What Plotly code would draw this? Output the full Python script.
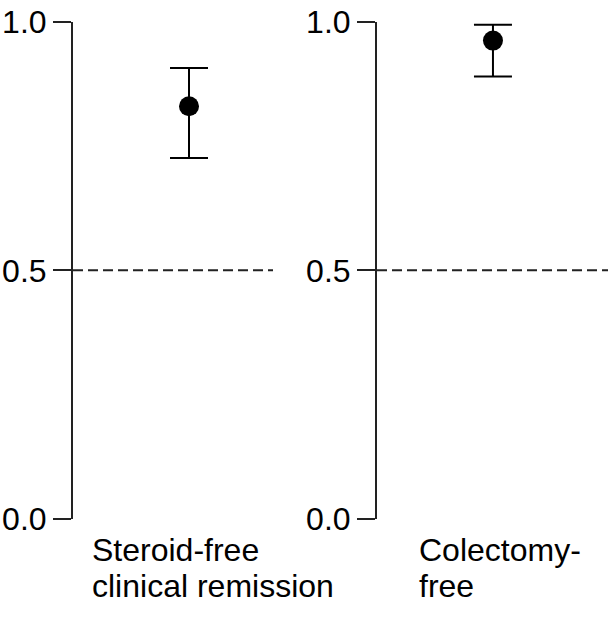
import plotly.graph_objects as go

categories = ["Steroid-free clinical remission", "Colectomy-free"]
label_lines = [["Steroid-free", "clinical remission"], ["Colectomy-", "free"]]
estimate = [0.830, 0.962]
lower = [0.726, 0.890]
upper = [0.907, 0.994]
y_ticks = [0.0, 0.5, 1.0]
y_ticktext = ["0.0", "0.5", "1.0"]
reference_line = 0.5

W, H = 616, 617
FONT = "Liberation Sans, Arial, sans-serif"

fig = go.Figure()

# panel geometry (pixels)
x_domains_px = [(73, 273), (377, 608)]
point_frac = [0.58, 0.502]
y0_px, y1_px = 519.0, 21.7
ydom = [(H - y0_px) / H, (H - y1_px) / H]
label_x_px = [90, 417]

for i, cat in enumerate(categories):
    xa = "x" if i == 0 else f"x{i+1}"
    ya = "y" if i == 0 else f"y{i+1}"
    fig.add_trace(go.Scatter(
        x=[cat], y=[estimate[i]],
        mode="markers",
        marker=dict(color="black", size=20),
        error_y=dict(type="data", symmetric=False,
                     array=[upper[i] - estimate[i]],
                     arrayminus=[estimate[i] - lower[i]],
                     color="black", thickness=2, width=19),
        xaxis=xa, yaxis=ya, cliponaxis=False, showlegend=False,
    ))
    d0, d1 = x_domains_px[i]
    f = point_frac[i]
    xkey = "xaxis" if i == 0 else f"xaxis{i+1}"
    ykey = "yaxis" if i == 0 else f"yaxis{i+1}"
    fig.update_layout(**{
        xkey: dict(domain=[d0 / W, d1 / W], type="category",
                   range=[-f, 1 - f], showline=False, showgrid=False,
                   zeroline=False, showticklabels=False, ticks="",
                   anchor=ya, fixedrange=True, automargin=False),
        ykey: dict(domain=ydom, range=[0, 1], tickvals=y_ticks,
                   ticktext=y_ticktext, showline=True, linecolor="#222222",
                   linewidth=2, ticks="outside", ticklen=18, tickwidth=2,
                   tickcolor="#222222", showgrid=False, zeroline=False,
                   tickfont=dict(family=FONT, size=32, color="black"),
                   anchor=xa, fixedrange=True, automargin=False),
    })
    fig.add_shape(type="line", xref=f"{xa} domain", yref=ya,
                  x0=0, x1=1, y0=reference_line, y1=reference_line,
                  line=dict(color="#222222", width=2, dash="10px,5px"))
    for j, txt in enumerate(label_lines[i]):
        fig.add_annotation(text=txt, xref="paper", yref="paper",
                           x=label_x_px[i] / W, xanchor="left",
                           y=(H - (550 + 36 * j)) / H, yanchor="middle",
                           showarrow=False,
                           font=dict(family=FONT, size=32, color="black"))

fig.update_layout(width=W, height=H, autosize=False,
                  margin=dict(l=0, r=0, t=0, b=0, pad=0),
                  paper_bgcolor="white", plot_bgcolor="white")

fig.write_html("out.html")
